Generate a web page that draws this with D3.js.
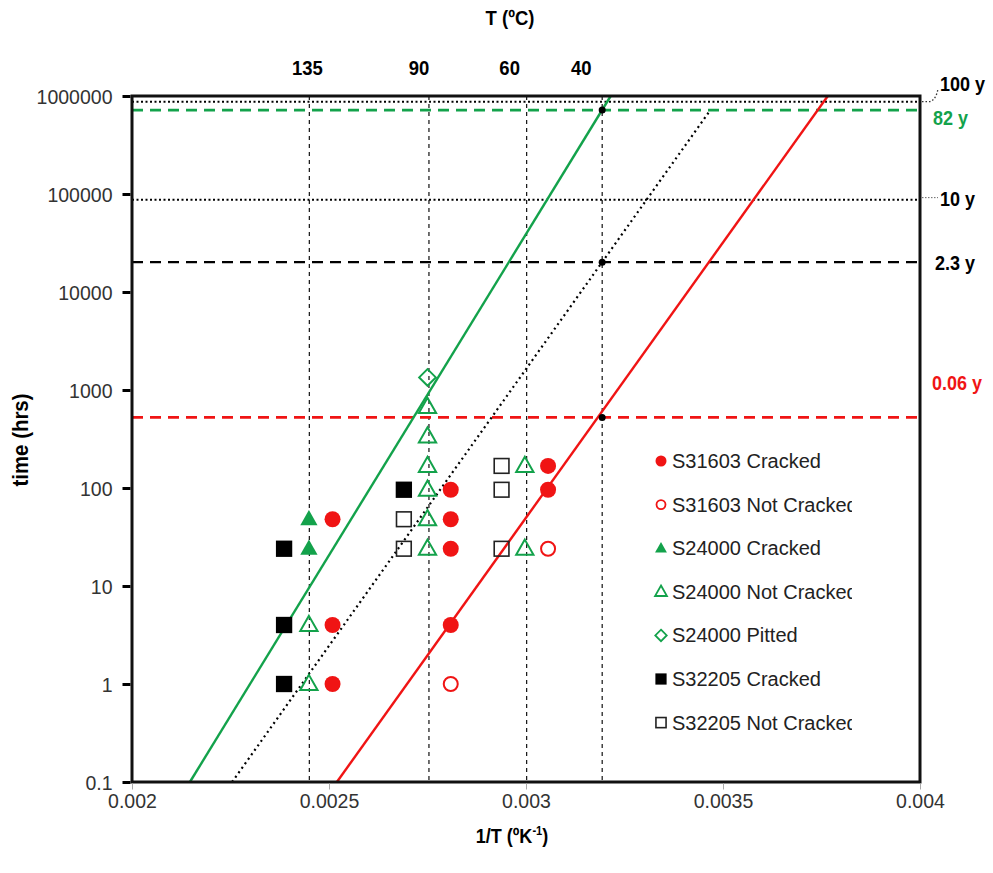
<!DOCTYPE html>
<html><head><meta charset="utf-8">
<script src="https://cdn.jsdelivr.net/npm/d3@7"></script>
<style>
body{margin:0;background:#fff;}
text{font-family:"Liberation Sans",Arial,sans-serif;}
</style></head>
<body>
<svg id="chart" width="993" height="873"></svg>
<script>
// ---------- data ----------
const yTickValues = [0.1, 1, 10, 100, 1000, 10000, 100000, 1000000];
const yTickLabels = ["0.1", "1", "10", "100", "1000", "10000", "100000", "1000000"];
const xTickValues = [0.002, 0.0025, 0.003, 0.0035, 0.004];
const xTickLabels = ["0.002", "0.0025", "0.003", "0.0035", "0.004"];

const tempsC = [135, 90, 60, 40];

const durationYears = [100, 82, 10, 2.3, 0.06];
const durationLabels = ["100 y", "82 y", "10 y", "2.3 y", "0.06 y"];
const hoursPerYear = 8760;

// trend lines: [1/T, hours]
const greenLine = [[0.002147, 0.1], [0.003215, 1000000]];
const blackDotLine = [[0.002254, 0.1], [0.003468, 718320]];
const redLine = [[0.00252, 0.1], [0.003766, 1000000]];

const s31603Cracked = [[0.002509,48],[0.002509,4],[0.002509,1],[0.002809,96],[0.002809,48],[0.002809,24],[0.002809,4],[0.003056,168],[0.003056,96]];
const s31603NotCracked = [[0.002809,1],[0.003056,24]];
const s24000Cracked = [[0.002449,48],[0.002449,24]];
const s24000NotCracked = [[0.002449,4],[0.002449,1],[0.00275,672],[0.00275,336],[0.00275,168],[0.00275,96],[0.00275,48],[0.00275,24],[0.002997,168],[0.002997,24]];
const s24000Pitted = [[0.00275,1344]];
const s32205Cracked = [[0.002386,24],[0.002386,4],[0.002386,1],[0.00269,96]];
const s32205NotCracked = [[0.00269,48],[0.00269,24],[0.002938,168],[0.002938,96],[0.002938,24]];

const legendLabels = ["S31603 Cracked","S31603 Not Cracked","S24000 Cracked","S24000 Not Cracked","S24000 Pitted","S32205 Cracked","S32205 Not Cracked"];

// ---------- styles ----------
const RED = "#f01414", GREEN = "#13a24b", BLACK = "#000";
const series = [
  {data: s31603Cracked, shape: "circle", color: RED, filled: true},
  {data: s31603NotCracked, shape: "circle", color: RED, filled: false},
  {data: s24000Cracked, shape: "triangle", color: GREEN, filled: true},
  {data: s24000NotCracked, shape: "triangle", color: GREEN, filled: false},
  {data: s24000Pitted, shape: "diamond", color: GREEN, filled: false},
  {data: s32205Cracked, shape: "square", color: BLACK, filled: true},
  {data: s32205NotCracked, shape: "square", color: BLACK, filled: false}
];

const svg = d3.select("#chart");
const L = 132, R = 920, T = 96, B = 782;
const x = d3.scaleLinear().domain([0.002, 0.004]).range([L, R]);
const y = d3.scaleLog().domain([0.1, 1000000]).range([B, T]);

// condensed text helper
function label(px, py, str, opt) {
  const t = svg.append("text")
    .attr("transform", `translate(${px},${py})${opt.rotate ? " rotate(" + opt.rotate + ")" : ""} scale(${opt.sx || 1},1)`)
    .attr("text-anchor", opt.anchor || "start")
    .attr("font-size", opt.size || 20)
    .attr("font-weight", opt.bold ? "bold" : "normal")
    .attr("fill", opt.color || "#000");
  if (str !== null) t.text(str);
  return t;
}

// vertical temperature lines
const invT = tempsC.map(t => 1 / (t + 273.15));
svg.append("g").selectAll("line").data(invT).join("line")
  .attr("x1", d => x(d)).attr("x2", d => x(d))
  .attr("y1", T).attr("y2", B)
  .attr("stroke", "#111").attr("stroke-width", 1.2).attr("stroke-dasharray", "4,4");

// horizontal duration lines
const hStyles = [
  {color: BLACK, dash: "2,2.5", w: 2},
  {color: GREEN, dash: "11,7", w: 2.6},
  {color: BLACK, dash: "2,2.5", w: 2},
  {color: BLACK, dash: "11,7", w: 2.2},
  {color: RED, dash: "11,7", w: 2.6}
];
durationYears.forEach((yr, i) => {
  const h = yr * hoursPerYear;
  svg.append("line").attr("x1", L).attr("x2", R).attr("y1", y(h)).attr("y2", y(h))
    .attr("stroke", hStyles[i].color).attr("stroke-width", hStyles[i].w)
    .attr("stroke-dasharray", hStyles[i].dash);
});

// trend lines
const lineGen = d3.line().x(d => x(d[0])).y(d => y(d[1]));
svg.append("path").attr("d", lineGen(greenLine)).attr("stroke", GREEN).attr("stroke-width", 2.4).attr("fill", "none");
svg.append("path").attr("d", lineGen(redLine)).attr("stroke", RED).attr("stroke-width", 2.4).attr("fill", "none");
svg.append("path").attr("d", lineGen(blackDotLine)).attr("stroke", BLACK).attr("stroke-width", 2.2).attr("fill", "none").attr("stroke-dasharray", "2,3.5");

// intersection dots at 40 C
[1, 3, 4].forEach(i => {
  svg.append("circle").attr("cx", x(invT[3])).attr("cy", y(durationYears[i] * hoursPerYear)).attr("r", 3.5).attr("fill", "#000");
});

// markers
function drawMarker(g, shape, color, filled, cx, cy, s) {
  const fill = filled ? color : "none";
  const sw = s > 12 ? 2 : 1.8;
  if (shape === "circle") {
    g.append("circle").attr("cx", cx).attr("cy", cy).attr("r", filled ? s * 0.5 : s * 0.5 - 1)
      .attr("fill", fill).attr("stroke", color).attr("stroke-width", filled ? 0 : sw);
  } else if (shape === "square") {
    const a = filled ? s * 1.02 : s * 0.92;
    g.append("rect").attr("x", cx - a / 2).attr("y", cy - a / 2).attr("width", a).attr("height", a)
      .attr("fill", fill).attr("stroke", filled ? "none" : "#222").attr("stroke-width", 1.6);
  } else if (shape === "triangle") {
    const w = s * 1.08, h = s * 0.95;
    g.append("path").attr("d", `M${cx},${cy - h * 0.6}L${cx + w / 2},${cy + h * 0.4}L${cx - w / 2},${cy + h * 0.4}Z`)
      .attr("fill", fill).attr("stroke", color).attr("stroke-width", filled ? 0 : sw).attr("stroke-linejoin", "miter");
  } else if (shape === "diamond") {
    const r = s * 0.52;
    g.append("path").attr("d", `M${cx},${cy - r}L${cx + r},${cy}L${cx},${cy + r}L${cx - r},${cy}Z`)
      .attr("fill", fill).attr("stroke", color).attr("stroke-width", sw);
  }
}
const mg = svg.append("g");
series.forEach(sr => {
  sr.data.forEach(d => drawMarker(mg, sr.shape, sr.color, sr.filled, x(d[0]), y(d[1]), 16));
});

// frame
svg.append("rect").attr("x", L).attr("y", T).attr("width", R - L).attr("height", B - T)
  .attr("fill", "none").attr("stroke", "#111").attr("stroke-width", 3);

// axes
const yAxis = d3.axisLeft(y).tickValues(yTickValues).tickFormat((d, i) => yTickLabels[i]).tickSize(8).tickPadding(10);
const gy = svg.append("g").attr("transform", `translate(${L - 1.5},0)`).call(yAxis);
gy.select(".domain").remove();
gy.selectAll(".tick line").attr("stroke", "#000").attr("stroke-width", 3);
gy.selectAll(".tick text").attr("font-size", 19.5).attr("fill", "#333").attr("dy", "0.36em")
  .style("font-family", "Liberation Sans, Arial, sans-serif");

const xAxis = d3.axisBottom(x).tickValues(xTickValues).tickFormat((d, i) => xTickLabels[i]).tickSize(6).tickPadding(5);
const gx = svg.append("g").attr("transform", `translate(0,${B + 1.5})`).call(xAxis);
gx.select(".domain").remove();
gx.selectAll(".tick line").attr("stroke", "#aaa").attr("stroke-width", 1);
gx.selectAll(".tick text").attr("font-size", 19.5).attr("fill", "#333")
  .style("font-family", "Liberation Sans, Arial, sans-serif");

// axis titles
label(510, 25, "T (ºC)", {anchor: "middle", size: 21, bold: true, sx: 0.88});
label(28, 440, "time (hrs)", {anchor: "middle", size: 21.5, bold: true, sx: 0.95, rotate: -90});
const xt = label(512, 843, null, {anchor: "middle", size: 21, bold: true, sx: 0.86});
xt.append("tspan").text("1/T (ºK");
xt.append("tspan").attr("font-size", 13).attr("dy", -8).text("-1");
xt.append("tspan").attr("dy", 8).text(")");

// top temperature labels
const tempLabelDx = [-2, -10, -17, -21];
tempsC.forEach((t, i) => {
  label(x(invT[i]) + tempLabelDx[i], 75, String(t), {anchor: "middle", size: 21, bold: true, sx: 0.88});
});

// right duration labels
const durLabelPos = [[940, 91], [933, 125], [940, 206], [935, 270], [932, 390]];
const durLabelColors = [BLACK, GREEN, BLACK, BLACK, RED];
durationLabels.forEach((lab, i) => {
  label(durLabelPos[i][0], durLabelPos[i][1], lab, {size: 20, bold: true, sx: 0.9, color: durLabelColors[i]});
});
// leaders
const y100 = y(100 * hoursPerYear);
svg.append("path").attr("d", `M${R + 2},${y100} L${R + 10},${y100} Q${R + 16},${y100 - 2} ${R + 18},${T - 7}`)
  .attr("fill", "none").attr("stroke", "#333").attr("stroke-width", 1.3).attr("stroke-dasharray", "1.5,2");
svg.append("line").attr("x1", R + 2).attr("x2", R + 18).attr("y1", y(10 * hoursPerYear) - 2).attr("y2", y(10 * hoursPerYear) - 2)
  .attr("stroke", "#666").attr("stroke-width", 1).attr("stroke-dasharray", "1.5,1.5");

// legend
svg.append("clipPath").attr("id", "legclip").append("rect").attr("x", 640).attr("y", 440).attr("width", 212).attr("height", 300);
const lg = svg.append("g").attr("clip-path", "url(#legclip)");
legendLabels.forEach((lab, i) => {
  const ly = 461 + i * 43.6;
  const sr = series[i];
  drawMarker(lg, sr.shape, sr.color, sr.filled, 661, ly, 11);
  lg.append("text").attr("x", 672).attr("y", ly + 7).attr("font-size", 20).attr("fill", "#222").text(lab);
});
</script>
</body></html>
